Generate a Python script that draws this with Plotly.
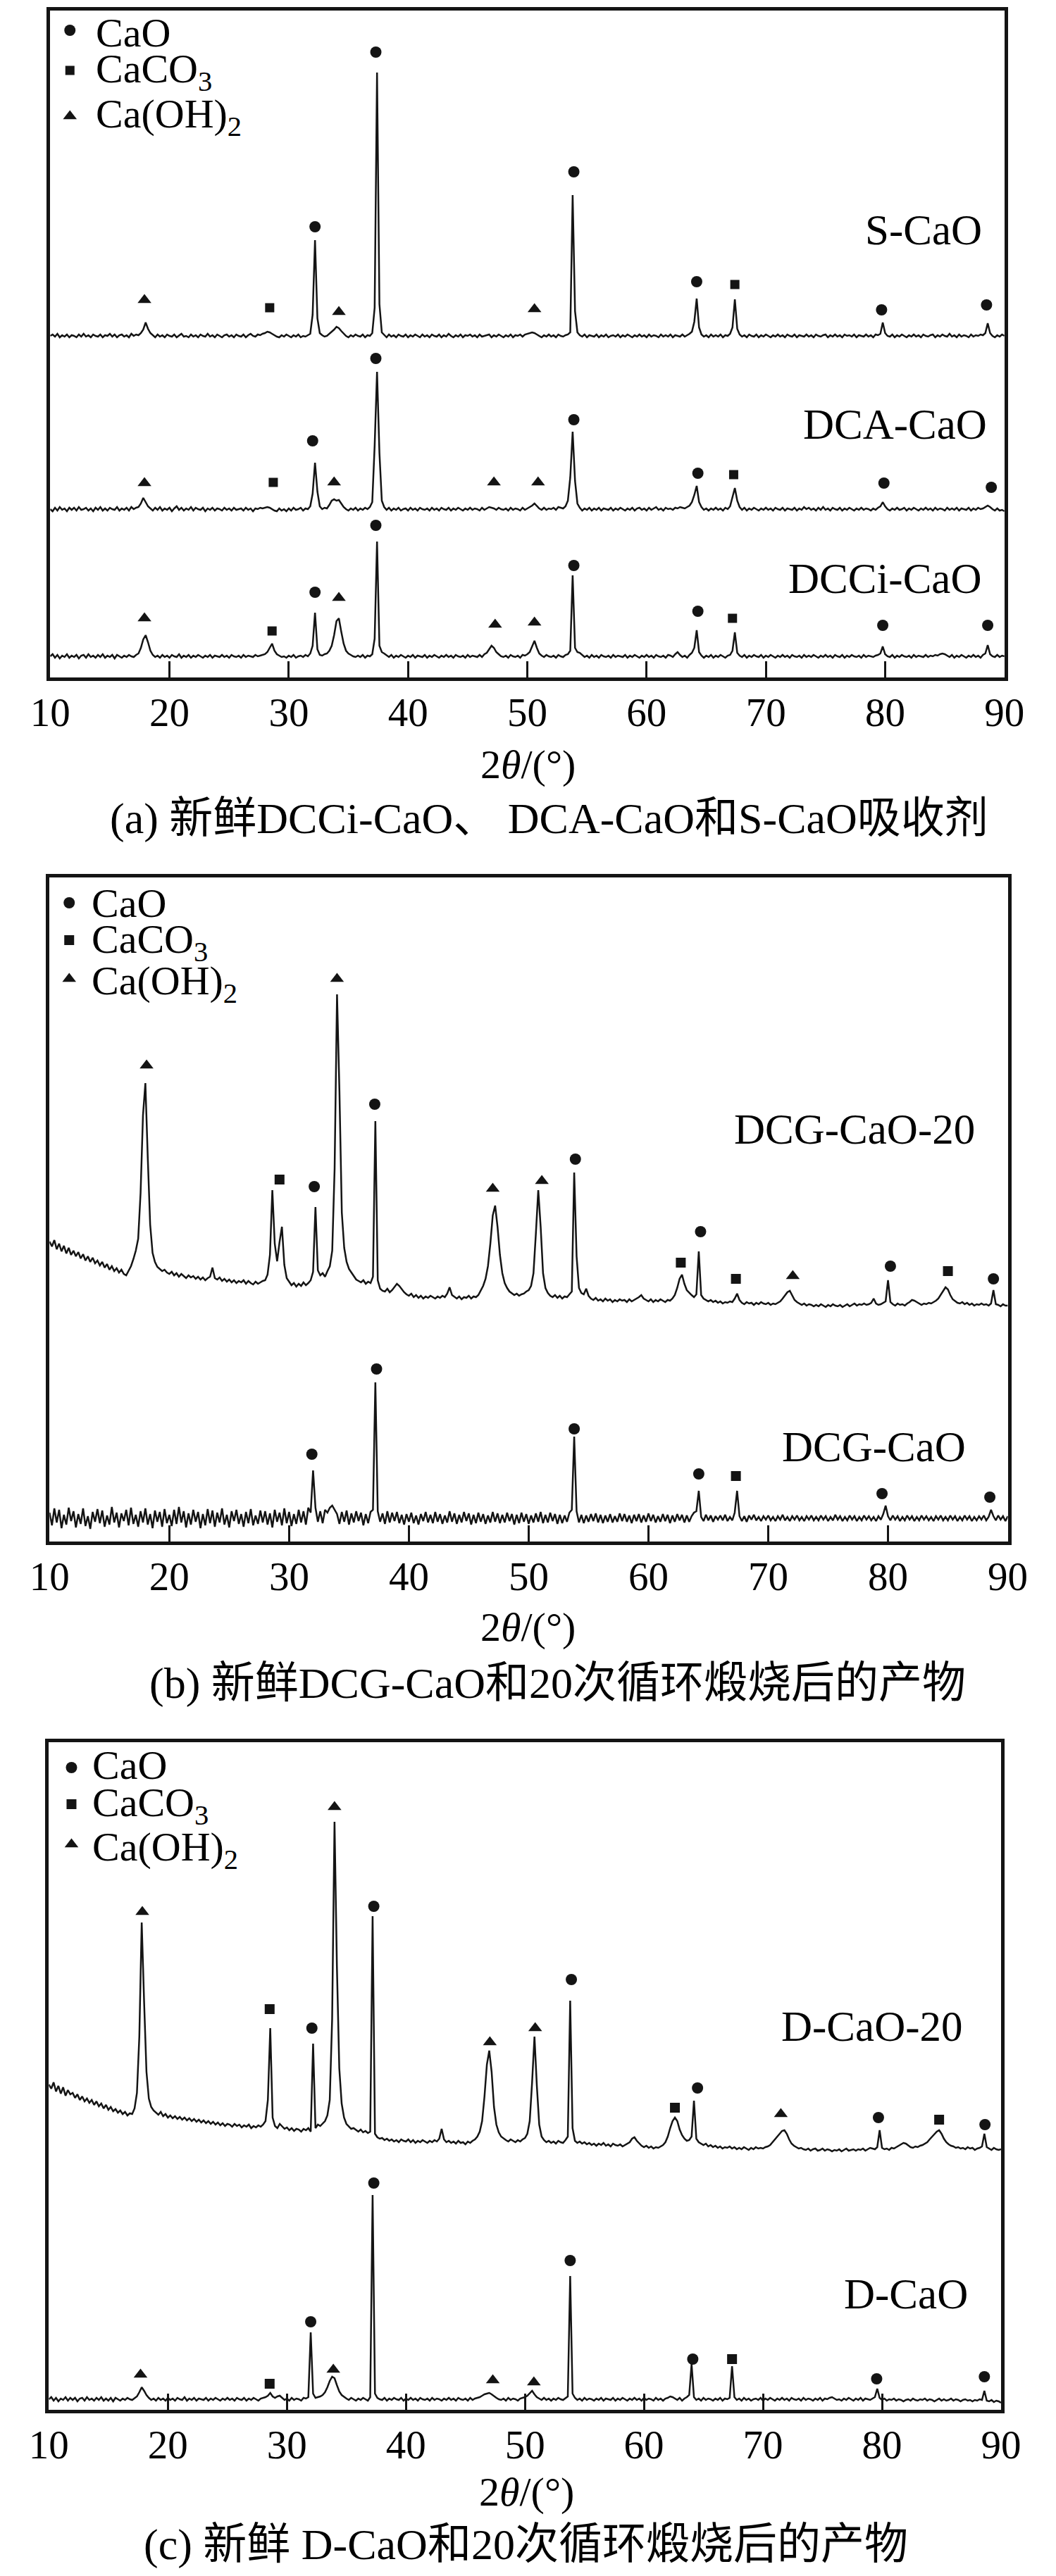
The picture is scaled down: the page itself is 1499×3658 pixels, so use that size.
import plotly.graph_objects as go

FONT = "Liberation Serif, Noto Sans CJK SC, serif"
INK = "#141414"

# 2-theta sampling of the digitised patterns (start, step in degrees)
X0, DX = 10.0, 0.2

tick_vals = [10, 20, 30, 40, 50, 60, 70, 80, 90]
tick_text = ["10", "20", "30", "40", "50", "60", "70", "80", "90"]

# ---------------- panel (a): relative intensities (one value per 0.2 deg, 10..90) ----------
s_cao = [
    0, 2, -1, 3, -2, 1, -1, 2, -2, 1,
    0, -2, 2, -1, 3, -1, 1, -2, 2, 0,
    -1, 2, -2, 1, 0, 3, -1, 2, -2, 1,
    2, -1, 1, -2, 3, 0, 2, 1, 4, 9,
    19, 10, 4, 1, -2, 2, -1, 1, -2, 2,
    0, -1, 2, -2, 1, 3, -1, 0, -2, 2,
    -1, 1, -2, 2, 0, -1, 3, -1, 1, -2,
    2, 0, -2, 1, 2, -1, 1, -2, 2, 0,
    -1, 2, -2, 1, 3, 0, -1, 2, 1, 3,
    4, 6, 5, 3, 1, -1, -2, 1, -1, 2,
    0, -2, 1, -1, 2, -2, 0, -1, 1, 3,
    30, 136, 25, 4, 1, -1, 0, 3, 6, 9,
    13, 11, 7, 3, 0, -2, 1, -1, 2, 0,
    -1, 2, -2, 1, 0, 4, 40, 374, 45, 5,
    1, -2, 2, -1, 1, -2, 2, 0, -1, 2,
    -2, 1, -1, 2, 0, -2, 2, -1, 1, -2,
    2, 0, -1, 2, -2, 1, -1, 3, 0, -2,
    1, -1, 2, -2, 1, 0, 2, -1, 1, -2,
    2, -1, 0, 1, 2, -2, 1, -1, 2, 0,
    -2, 1, -1, 2, -2, 1, 0, 2, -1, 2,
    3, 4, 5, 4, 2, 0, -2, 1, -1, 2,
    -1, 1, -2, 2, 0, -1, 1, 2, 5, 200,
    35, 5, 1, -1, 2, -2, 1, 0, -1, 2,
    -2, 1, -1, 2, -2, 0, 1, -1, 2, -2,
    1, -1, 2, 0, -2, 1, -1, 2, -1, 1,
    -2, 2, -1, 1, 0, -2, 2, -1, 1, -1,
    2, -2, 1, 0, -1, 2, -1, 1, 3, 6,
    20, 53, 12, 2, -1, 1, -2, 2, -1, 1,
    -1, 2, -2, 1, 0, 3, 12, 52, 10, 2,
    -1, 1, -2, 2, 0, -1, 2, -2, 1, -1,
    2, 0, -2, 1, -1, 2, -1, 1, -2, 2,
    0, -1, 2, -2, 1, 0, -1, 2, -1, 1,
    -2, 2, 0, -1, 1, 2, -2, 1, -1, 2,
    -1, 1, -2, 2, 0, 1, -1, 2, -2, 1,
    0, -1, 2, -1, 1, -2, 2, 1, 3, 19,
    4, 0, -1, 2, -2, 1, -1, 2, 0, -2,
    1, -1, 2, -1, 1, -2, 2, 0, -1, 1,
    2, -2, 1, -1, 2, 0, -1, 3, -1, 1,
    -2, 2, -1, 1, 0, -2, 2, -1, 1, 0,
    2, 1, 4, 18, 4, 0, -2, 1, -1, 2,
    0,
]

dca_cao = [
    0, -3, 2, -2, 3, -1, 1, -3, 2, -1,
    2, -2, 3, -1, 0, 2, -2, 1, -3, 2,
    -1, 3, -2, 1, -2, 2, 0, -1, 3, -2,
    1, -1, 2, -2, 3, 0, 2, 3, 8, 16,
    10, 4, 1, -2, 2, -1, 3, -2, 1, -1,
    2, -3, 1, 4, -1, 2, -2, 1, -1, 3,
    -2, 2, 0, -1, 2, -3, 1, -1, 2, -2,
    1, 0, -2, 2, -1, 1, -2, 2, -1, 0,
    1, -2, 2, -1, 1, -3, 1, 0, 2, 1,
    2, 3, 2, 0, -2, -3, 1, -2, 0, -3,
    1, -2, 2, -1, 0, 2, -2, 1, 0, 4,
    22, 66, 25, 4, 0, 2, 1, 6, 12, 14,
    12, 13, 8, 3, 0, -2, 1, -1, 2, -2,
    1, -1, 2, 0, 3, 10, 90, 195, 80, 12,
    3, -1, 2, -2, 1, -1, 2, -2, 0, 1,
    -2, 2, -1, 1, -2, 2, 0, -1, 1, -2,
    2, -1, 1, -2, 2, 0, -1, 2, -2, 1,
    -1, 2, 0, -2, 1, -1, 2, -1, 1, 0,
    -2, 2, -1, 1, 3, 2, 1, -1, 2, 0,
    -1, 1, -2, 2, -1, 1, 0, -2, 2, -1,
    1, 3, 5, 8, 4, 1, -1, 2, -1, 1,
    0, 2, -1, 3, 2, 1, 4, 12, 45, 110,
    40, 8, 2, -2, 1, -1, 2, -2, 1, -1,
    2, -2, 1, 0, -1, 2, -2, 1, -1, 2,
    0, -2, 1, -1, 2, -2, 1, 2, -1, 1,
    -2, 2, -1, 1, 3, -1, 1, -2, 2, 0,
    1, -1, 2, 1, 3, 2, 1, 3, 5, 10,
    20, 33, 10, 3, -1, 1, -2, 1, -1, 2,
    -1, 1, -2, 2, 0, 4, 18, 30, 12, 3,
    -1, 2, -2, 1, -1, 2, 0, -2, 1, -1,
    2, -1, 1, -2, 2, 0, -1, 2, -2, 1,
    0, -1, 2, -2, 1, -1, 3, 0, 2, -1,
    1, -2, 2, -1, 3, -1, 1, -2, 2, 0,
    -1, 2, -2, 1, -1, 2, 0, -2, 1, -1,
    2, -1, 1, 0, -2, 1, -1, 2, 4, 10,
    4, 0, -2, 1, -1, 2, -1, 0, 2, -2,
    1, -1, 2, 0, -2, 1, -1, 2, -1, 1,
    -2, 2, -1, 1, 0, -2, 2, -1, 1, -1,
    2, -2, 1, 0, -1, 2, -2, 1, -1, 2,
    0, 1, 3, 5, 3, 0, -2, 1, -2, -1,
    -3,
]

dcci_cao = [
    0, 3, -2, 2, -3, 1, -1, 3, -2, 1,
    -1, 2, -3, 1, 2, -2, 3, -1, 1, -2,
    2, -1, 3, -2, 1, -1, 2, -3, 2, 0,
    -2, 1, -1, 2, 0, -1, 2, 4, 12, 24,
    30, 20, 8, 2, -1, 1, -2, 2, -1, 1,
    -2, 2, 0, -1, 3, -2, 1, -1, 2, -2,
    1, -1, 2, 0, -2, 1, -1, 2, -2, 1,
    0, -1, 2, -1, 1, -2, 2, 0, -1, 1,
    -2, 2, -1, 1, 0, -1, 2, 0, 1, 2,
    3, 6, 12, 18, 8, 3, 1, -1, 0, -2,
    1, -1, 2, -2, 0, 1, -1, 2, 0, 4,
    15, 62, 10, 2, 1, 3, 4, 8, 15, 30,
    50, 54, 35, 18, 8, 4, 2, 0, -1, 1,
    -1, 2, -2, 1, 0, 3, 25, 163, 15, 6,
    4, 1, -1, 2, -2, 1, -1, 2, 0, -2,
    1, -1, 2, -2, 1, 0, -1, 2, -2, 1,
    -1, 2, 0, -2, 1, -1, 2, -1, 1, -2,
    2, 0, -1, 1, -2, 2, -1, 1, 0, -1,
    2, -1, 3, 5, 10, 15, 12, 6, 3, 0,
    -1, 1, -2, 2, 0, -1, 1, -2, 2, 1,
    3, 6, 14, 22, 12, 4, 1, -1, 2, 0,
    -1, 1, -2, 2, 0, -1, 2, 3, 8, 115,
    12, 6, 5, 2, -1, 1, -2, 2, -1, 1,
    -2, 2, 0, -1, 1, -2, 2, -1, 1, 0,
    -1, 2, -2, 1, -1, 2, 0, -2, 1, -1,
    2, -1, 1, -2, 2, 0, -1, 1, -2, 2,
    1, -1, 3, 6, 2, -1, 1, -2, 2, 5,
    12, 37, 6, 1, -2, 1, -1, 2, -2, 1,
    -1, 2, 0, -2, 1, 2, 8, 34, 5, 1,
    -1, 2, -2, 1, -1, 2, 0, -1, 2, -2,
    1, -1, 2, 0, -2, 1, -1, 2, -1, 1,
    -2, 2, 0, -1, 1, -2, 2, -1, 1, -1,
    2, 0, -2, 1, -1, 2, -1, 1, -2, 2,
    0, -1, 2, -2, 1, -1, 2, 0, -1, 1,
    -2, 2, -1, 1, 0, -1, 1, 2, 4, 14,
    3, 0, -1, 2, -2, 1, -1, 2, 0, -1,
    1, -2, 2, -1, 1, 0, -1, 2, -1, 1,
    0, 2, 1, 3, 4, 3, 1, -1, 2, -2,
    1, -1, 2, 0, -2, 1, -1, 2, -1, 1,
    -2, 2, 4, 16, 3, 0, -1, 2, -1, 1,
    0,
]

# ---------------- panel (b) ----------------
dcg_cao_20 = [
    91, 84, 93, 80, 88, 77, 85, 74, 82, 72,
    78, 70, 76, 67, 73, 64, 70, 62, 68, 60,
    64, 57, 62, 54, 59, 51, 56, 49, 53, 47,
    51, 45, 43, 49, 56, 66, 78, 95, 160, 270,
    316, 210, 115, 75, 62, 55, 52, 49, 51, 47,
    45, 48, 43, 46, 41, 45, 42, 39, 43, 40,
    42, 38, 41, 37, 40, 36, 39, 41, 54, 39,
    37, 40, 35, 38, 34, 37, 33, 36, 32, 35,
    33, 36, 31, 35, 32, 30, 34, 31, 33, 35,
    36, 44, 72, 164, 88, 63, 90, 112, 58, 39,
    34, 29, 32, 27, 31, 28, 33, 29, 32, 36,
    48, 140, 50, 43, 46, 41, 49, 56, 78, 195,
    442, 305, 132, 82, 62, 52, 47, 42, 37, 35,
    33, 36, 31, 34, 32, 41, 262, 36, 24, 21,
    20, 24, 19, 22, 27, 31, 28, 23, 19, 16,
    14, 17, 12, 15, 11, 14, 10, 13, 11, 14,
    12, 10, 13, 11, 14, 12, 17, 26, 15, 12,
    10, 13, 9, 12, 11, 14, 10, 13, 12, 15,
    22, 28, 38, 56, 88, 128, 142, 112, 72, 46,
    32, 25, 20, 17, 15, 17, 14, 16, 17, 20,
    22, 28, 46, 102, 164, 112, 46, 25, 18, 14,
    12, 15, 11, 14, 10, 13, 12, 16, 20, 189,
    70, 25, 18, 16, 24, 14, 10, 8, 11, 7,
    9, 6, 10, 7, 9, 5, 8, 6, 9, 7,
    8, 5, 9, 6, 8, 10, 12, 15, 10, 8,
    6, 9, 5, 8, 6, 9, 7, 5, 8, 7,
    10, 15, 25, 38, 44, 31, 22, 18, 15, 12,
    16, 77, 15, 10, 8, 6, 8, 5, 7, 4,
    6, 3, 5, 4, 6, 5, 10, 17, 8, 4,
    2, 5, 3, 4, 1, 4, 2, 5, 3, 2,
    4, 1, 3, 2, 4, 6, 10, 15, 19, 21,
    14, 8, 5, 3, 1, 3, 0, 2, 1, -1,
    1, -1, 2, 0, -2, 1, -1, 2, 0, -1,
    1, -2, 0, 2, -1, 1, 3, 0, 2, 1,
    3, 1, 2, 4, 10, 3, 1, 2, 4, 6,
    36, 5, 2, 0, 3, 1, 2, 0, 3, 5,
    8, 7, 5, 3, 1, 3, 2, 4, 3, 5,
    7, 10, 15, 21, 26, 23, 15, 9, 6, 4,
    3, 5, 2, 4, 1, 3, 0, 2, 1, 3,
    1, 2, 0, 3, 22, 2, 1, -1, 2, 0,
    0,
]

dcg_cao = [
    8, -10, 14, -6, 12, -14, 5, -9, 15, -4,
    10, -13, 6, -8, 14, -11, 3, -15, 9, -5,
    13, -7, 11, -12, 4, -9, 16, -6, 8, -13,
    7, -4, 12, -10, 15, -8, 5, -12, 10, -6,
    14, -9, 6, -14, 11, -5, 9, -12, 13, -7,
    5, -11, 12, -8, 16, -6, 10, -13, 7, -9,
    12, -5, 9, -14, 6, -10, 13, -7, 11, -12,
    8, -6, 14, -9, 5, -13, 10, -4, 12, -8,
    6, -12, 9, -7, 13, -10, 4, -8, 11, -6,
    10, -9, 7, -13, 12, -5, 8, -10, 14, -7,
    9, -11, 6, -8, 12, -6, 10, -9, 15, 8,
    68, 15, -5, 10, -7, 12, 8, 15, 18, 12,
    6, -8, 9, -5, 11, -9, 7, -6, 10, -4,
    8, -10, 6, -7, 9, 12, 193, 10, -5, 7,
    -8, 10, -6, 8, -4, 9, -7, 5, -9, 6,
    -5, 8, -7, 4, -9, 6, -4, 9, -6, 5,
    -7, 9, -5, 6, -8, 4, -6, 10, -5, 7,
    -8, 5, -6, 9, -4, 7, -9, 5, -7, 8,
    -5, 6, -8, 4, -6, 9, -5, 7, -7, 5,
    -6, 8, -4, 6, -9, 5, -7, 8, -5, 6,
    -8, 4, -6, 7, -5, 9, -7, 5, -6, 8,
    -4, 6, -8, 5, -7, 4, -5, 8, 12, 116,
    10, -6, 5, -7, 4, -5, 6, -4, 7, -6,
    5, -7, 4, -5, 6, -6, 3, -5, 7, -4,
    6, -5, 4, -7, 5, -4, 6, -6, 4, -5,
    7, -4, 5, -6, 3, -5, 6, -4, 5, -7,
    4, -5, 6, -3, 5, -6, 4, -5, 3, 8,
    10, 39, 2, -4, 5, -3, 4, -5, 3, -2,
    4, -3, 5, -4, 2, -3, 8, 39, 3, -4,
    3, -5, 4, -2, 5, -3, 2, -4, 3, -2,
    4, -3, 2, -4, 3, -2, 5, -3, 2, -4,
    3, -2, 4, -3, 2, -4, 3, -2, 4, -3,
    2, -3, 4, -2, 3, -4, 2, -3, 5, -2,
    3, -4, 2, -3, 4, -2, 3, -4, 2, -3,
    4, -2, 3, -3, 2, -4, 3, -2, 6, 18,
    3, -3, 4, -2, 3, -4, 2, -3, 4, -2,
    3, -4, 2, -3, 4, -2, 3, -3, 2, -4,
    3, -2, 4, -3, 2, -3, 4, -2, 3, -4,
    2, -3, 4, -2, 3, -4, 2, -3, 3, -2,
    4, -3, 2, 12, 3, -3, 4, -2, 3, -4,
    3,
]

# ---------------- panel (c) ----------------
d_cao_20 = [
    92, 86, 95, 82, 90, 79, 88, 76, 84, 78,
    80, 73, 78, 70, 75, 68, 72, 66, 70, 63,
    68, 61, 65, 58, 63, 56, 60, 54, 57, 52,
    55, 50, 53, 48, 51, 50, 58, 80, 160, 322,
    210, 110, 72, 60, 55, 52, 49, 53, 47, 50,
    45, 48, 44, 47, 43, 46, 42, 45, 41, 44,
    40, 43, 39, 42, 38, 41, 37, 40, 36, 39,
    35, 38, 34, 37, 33, 36, 35, 32, 36, 33,
    35, 31, 34, 32, 35, 30, 33, 31, 34, 32,
    35, 40, 70, 172, 45, 33, 30, 36, 32, 29,
    31, 27, 30, 26, 29, 28, 25, 29, 27, 30,
    25, 150, 30, 35, 33, 36, 40, 48, 70, 185,
    465, 260, 115, 65, 45, 36, 32, 29, 30, 27,
    25, 28, 24, 26, 23, 25, 331, 22, 17, 15,
    16, 13, 15, 12, 14, 11, 13, 10, 14, 12,
    11, 14, 10, 13, 9, 12, 10, 13, 11, 9,
    12, 10, 13, 11, 15, 29, 14, 10, 12, 9,
    11, 8, 12, 9, 10, 7, 11, 9, 12, 14,
    18, 25, 40, 75, 120, 140, 110, 60, 35, 24,
    18, 15, 13, 11, 14, 12, 10, 13, 11, 14,
    16, 22, 40, 95, 160, 90, 35, 18, 13, 10,
    12, 9, 11, 8, 12, 10, 9, 13, 18, 211,
    30, 12, 9, 11, 8, 10, 7, 9, 6, 8,
    5, 8, 6, 9, 5, 7, 4, 8, 6, 5,
    7, 4, 6, 8, 10, 15, 17, 12, 8, 5,
    3, 5, 2, 4, 1, 3, 2, 4, 6, 10,
    18, 30, 40, 45, 40, 28, 20, 15, 12, 13,
    18, 69, 15, 10, 8, 6, 8, 4, 6, 3,
    5, 2, 4, 1, 3, 2, 4, 1, 3, 0,
    2, 0, 3, 1, -1, 2, 0, 3, 1, 2,
    1, 3, 4, 6, 10, 14, 19, 23, 26, 27,
    22, 14, 8, 5, 3, 1, 2, 0, -1, 1,
    -2, 0, 1, -2, -1, 1, -2, 0, -1, -3,
    -1, -2, 0, -3, -1, 1, -2, -1, 0, -2,
    0, -1, 1, -2, 0, 2, 1, 0, 3, 27,
    2, 0, 1, -1, 2, 1, 3, 5, 7, 9,
    8, 5, 3, 2, 4, 3, 5, 6, 8, 10,
    14, 18, 22, 25, 27, 22, 15, 10, 7, 5,
    4, 2, 3, 1, 2, 0, 3, 1, 2, -1,
    1, 2, 4, 22, 3, 1, -1, 2, 0, -1,
    0,
]

d_cao = [
    0, 3, -2, 2, -3, 1, -1, 3, -2, 2,
    -1, 2, -3, 1, 2, -2, 3, -1, 1, -2,
    2, -1, 3, -2, 1, -2, 2, -3, 2, 0,
    -2, 1, -1, 2, 0, -1, 2, 4, 10, 17,
    12, 6, 2, -1, 1, -2, 2, -1, 1, -2,
    2, -1, 1, -2, 2, 0, -1, 3, -2, 1,
    -1, 2, -2, 1, 0, -1, 2, -2, 1, -1,
    2, 0, -2, 1, -1, 2, -1, 1, -2, 2,
    0, -1, 2, -2, 1, -1, 2, 0, -2, 1,
    2, 3, 5, 9, 4, 2, 4, 5, 2, -1,
    1, -2, 2, -1, 1, 0, -2, 2, 1, 3,
    95, 8, 2, 3, 4, 6, 10, 17, 26, 32,
    30, 20, 11, 6, 3, 1, -1, 2, 0, -2,
    1, -1, 2, 0, -2, 3, 290, 8, 2, 0,
    -1, 2, -2, 1, -1, 2, 0, -1, 2, -2,
    1, -1, 2, -1, 1, -2, 2, 0, -1, 1,
    -2, 2, -1, 1, 0, -2, 1, -1, 2, -1,
    1, -2, 2, 0, -1, 1, -2, 2, -1, 1,
    2, 3, 5, 7, 8, 9, 7, 4, 2, 0,
    -1, 1, -2, 2, -1, 1, 0, -2, 1, 2,
    3, 5, 8, 12, 7, 3, 1, -1, 2, -1,
    1, -2, 1, -1, 2, 0, -1, 2, 4, 175,
    8, 2, -1, 1, -2, 2, -1, 1, 0, -2,
    1, -1, 2, -2, 1, 0, -1, 2, -2, 1,
    -1, 2, 0, -2, 1, -1, 2, -1, 1, -2,
    2, -1, 1, 0, -2, 2, -1, 1, -2, 1,
    2, 4, 3, 1, -1, 2, -2, 1, 3, 6,
    50, 3, -1, 1, -2, 2, -1, 1, 0, -2,
    1, -1, 2, -2, 1, 0, 2, 47, 3, -1,
    1, -2, 2, -1, 1, -2, 0, 1, -1, 2,
    -2, 1, -1, 2, 0, -2, 1, -1, 2, -1,
    1, -2, 2, 0, -1, 1, -2, 2, -1, 1,
    0, -2, 1, -1, 2, -2, 1, 0, 2, 3,
    1, -1, 0, -2, 1, -1, 2, 0, -2, 1,
    -1, 2, -2, 1, 0, -1, 1, 3, 15, 2,
    -1, 1, -2, 0, -1, 1, -2, 0, -1, -3,
    -1, 0, -2, 1, -1, -2, 0, -1, 1, -2,
    0, -1, -3, -1, 1, -2, 0, -2, -1, 1,
    -2, 0, -1, -3, -1, 0, -2, -1, -3, -1,
    -2, 0, -1, 12, -2, -3, -1, -4, -2, -3,
    -5,
]

# vertical offsets of the stacked patterns
offsets_a = {"S-CaO": 485, "DCA-CaO": 239, "DCCi-CaO": 30}
offsets_b = {"DCG-CaO-20": 335, "DCG-CaO": 33}
offsets_c = {"D-CaO-20": 370, "D-CaO": 15}

# phase markers (2theta, intensity level)
a_cao = [(32.2, 640), (37.3, 888), (53.9, 718), (64.2, 562), (79.7, 522), (88.5, 529),
         (32.0, 336), (37.3, 453), (53.9, 366), (64.3, 290), (79.9, 276), (88.9, 270),
         (32.2, 121), (37.3, 216), (53.9, 159), (64.3, 94), (79.8, 74), (88.6, 74)]
a_caco3 = [(28.4, 525), (67.4, 558), (28.7, 277), (67.3, 288), (28.6, 66), (67.2, 84)]
a_caoh2 = [(17.9, 536), (34.2, 519), (50.6, 523),
           (17.9, 276), (33.8, 277), (47.2, 277), (50.9, 277),
           (17.9, 84), (34.2, 113), (47.3, 75), (50.6, 78)]

b_cao = [(37.15, 621), (53.9, 543), (32.1, 504), (64.35, 440), (80.2, 391), (88.8, 373),
         (31.9, 124), (37.3, 245), (53.8, 160), (64.2, 96), (79.5, 68), (88.5, 63)]
b_caco3 = [(29.2, 514), (62.7, 396), (67.3, 373), (85.0, 384), (67.3, 93)]
b_caoh2 = [(18.1, 676), (34.0, 799), (47.0, 501), (51.1, 512), (72.05, 377)]

c_cao = [(37.3, 715), (53.9, 611), (32.1, 542), (64.5, 457), (79.7, 415), (88.65, 405),
         (37.3, 322), (53.8, 212), (32.0, 125), (64.1, 72), (79.55, 44), (88.6, 47)]
c_caco3 = [(28.55, 569), (62.6, 429), (84.8, 412), (28.55, 37), (67.4, 72)]
c_caoh2 = [(34.0, 856), (17.85, 707), (47.05, 522), (50.86, 542), (71.5, 420),
           (17.7, 50), (33.9, 57), (47.3, 42), (50.75, 39)]

legend_names = ["CaO", "CaCO<sub>3</sub>", "Ca(OH)<sub>2</sub>"]
legend_a = {"marker_x": 11.65, "text_x": 13.7, "marker_y": [919, 862, 797], "text_y": [915, 860, 796]}
legend_b = {"marker_x": 11.64, "text_x": 13.4, "marker_y": [907, 854, 799], "text_y": [906, 851, 792]}
legend_c = {"marker_x": 11.9, "text_x": 13.5, "marker_y": [912, 860, 803], "text_y": [916, 859, 796]}

labels_a = [("S-CaO", 83.2, 635), ("DCA-CaO", 80.8, 359), ("DCCi-CaO", 80.0, 140)]
labels_b = [("DCG-CaO-20", 77.2, 585), ("DCG-CaO", 78.8, 135)]
labels_c = [("D-CaO-20", 79.15, 545), ("D-CaO", 82.0, 165)]

captions = ["(a) 新鲜DCCi-CaO、 DCA-CaO和S-CaO吸收剂",
            "(b) 新鲜DCG-CaO和20次循环煅烧后的产物",
            "(c) 新鲜 D-CaO和20次循环煅烧后的产物"]
axis_title = "2<i>θ</i>/(°)"

for arr in (s_cao, dca_cao, dcci_cao, dcg_cao_20, dcg_cao, d_cao_20, d_cao):
    assert len(arr) == 401, len(arr)

W, H = 1499, 3658
fig = go.Figure()

panels = [
    dict(xa="x", ya="y", pats=[(s_cao, offsets_a["S-CaO"]), (dca_cao, offsets_a["DCA-CaO"]),
                               (dcci_cao, offsets_a["DCCi-CaO"])],
         marks=(a_cao, a_caco3, a_caoh2), leg=legend_a, labels=labels_a, msize=(16, 13, 17)),
    dict(xa="x2", ya="y2", pats=[(dcg_cao_20, offsets_b["DCG-CaO-20"]), (dcg_cao, offsets_b["DCG-CaO"])],
         marks=(b_cao, b_caco3, b_caoh2), leg=legend_b, labels=labels_b, msize=(16, 14, 17)),
    dict(xa="x3", ya="y3", pats=[(d_cao_20, offsets_c["D-CaO-20"]), (d_cao, offsets_c["D-CaO"])],
         marks=(c_cao, c_caco3, c_caoh2), leg=legend_c, labels=labels_c, msize=(16, 14, 17)),
]

symbols = ["circle", "square", "triangle-up"]
annotations = []
for p in panels:
    for vals, off in p["pats"]:
        fig.add_trace(go.Scatter(x0=X0, dx=DX, y=[off + v for v in vals], mode="lines",
                                 line=dict(color=INK, width=2.5), xaxis=p["xa"], yaxis=p["ya"],
                                 showlegend=False, hoverinfo="skip"))
    leg = p["leg"]
    for k, pts in enumerate(p["marks"]):
        xs = [q[0] for q in pts] + [leg["marker_x"]]
        ys = [q[1] for q in pts] + [leg["marker_y"][k]]
        fig.add_trace(go.Scatter(x=xs, y=ys, mode="markers",
                                 marker=dict(symbol=symbols[k], size=p["msize"][k], color=INK,
                                             line=dict(width=0)),
                                 xaxis=p["xa"], yaxis=p["ya"], showlegend=False, hoverinfo="skip",
                                 cliponaxis=False))
    for k, name in enumerate(legend_names):
        annotations.append(dict(text=name, x=leg["text_x"], y=leg["text_y"][k], xref=p["xa"], yref=p["ya"],
                                xanchor="left", yanchor="middle", showarrow=False,
                                font=dict(family=FONT, size=58, color="black")))
    for txt, lx, ly in p["labels"]:
        annotations.append(dict(text=txt, x=lx, y=ly, xref=p["xa"], yref=p["ya"],
                                xanchor="center", yanchor="middle", showarrow=False,
                                font=dict(family=FONT, size=61, color="black")))

# axis titles and captions (pixel rows from top of page)
title_rows = [1085, 2310, 3538]
title_cols = [750, 750, 747]
caption_rows = [1163, 2390, 3613]
caption_cols = [781, 793, 746]
for i in range(3):
    annotations.append(dict(text=axis_title, x=title_cols[i] / W, y=1 - title_rows[i] / H,
                            xref="paper", yref="paper", xanchor="center", yanchor="middle",
                            showarrow=False, font=dict(family=FONT, size=58, color="black")))
    annotations.append(dict(text=captions[i], x=caption_cols[i] / W, y=1 - caption_rows[i] / H,
                            xref="paper", yref="paper", xanchor="center", yanchor="middle",
                            showarrow=False, font=dict(family=FONT, size=62, color="black")))


def xax(domain, anchor):
    return dict(domain=domain, range=[10, 90], anchor=anchor, showline=True, mirror=True,
                linewidth=5, linecolor=INK, ticks="inside", ticklen=23, tickwidth=3, tickcolor=INK,
                tickvals=tick_vals, ticktext=tick_text, ticklabelstandoff=-4,
                tickfont=dict(family=FONT, size=57, color="black"),
                showgrid=False, zeroline=False)


def yax(domain, top, anchor):
    return dict(domain=domain, range=[0, top], anchor=anchor, showline=True, mirror=True,
                linewidth=5, linecolor=INK, ticks="", showticklabels=False,
                showgrid=False, zeroline=False)


fig.update_layout(
    width=W, height=H, autosize=False,
    margin=dict(l=0, r=0, t=0, b=0),
    paper_bgcolor="white", plot_bgcolor="white",
    showlegend=False,
    xaxis=xax([44 / W, 1453 / W], "y"),
    yaxis=yax([1 - 962 / H, 1 - 15 / H], 947, "x"),
    xaxis2=xax([43 / W, 1458 / W], "y2"),
    yaxis2=yax([1 - 2189 / H, 1 - 1246 / H], 943, "x2"),
    xaxis3=xax([42 / W, 1448 / W], "y3"),
    yaxis3=yax([1 - 3422 / H, 1 - 2474 / H], 948, "x3"),
    annotations=annotations,
)

fig.write_html("out.html",
               config={"displayModeBar": False, "staticPlot": True},
               post_script="document.body.style.margin='0px';document.body.style.overflow='hidden';")
